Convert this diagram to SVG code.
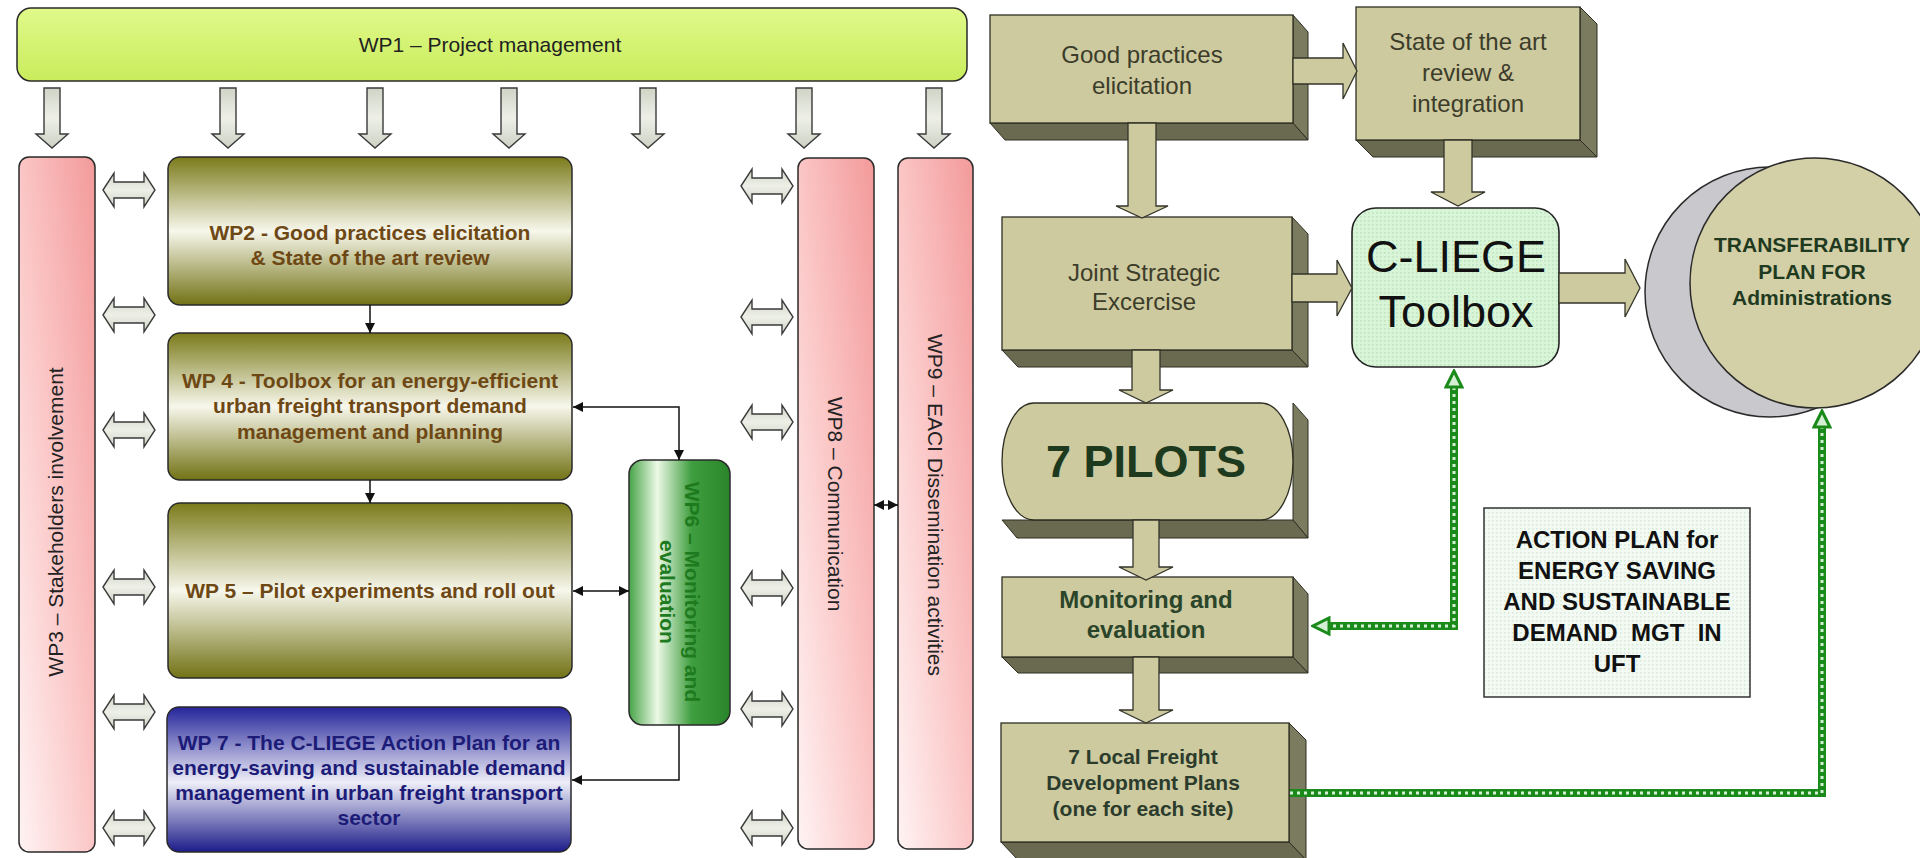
<svg xmlns="http://www.w3.org/2000/svg" width="1920" height="858" viewBox="0 0 1920 858">
<defs>
<linearGradient id="gWP1" x1="0" y1="0" x2="0" y2="1"><stop offset="0" stop-color="#e0f98a"/><stop offset="1" stop-color="#c9ec5c"/></linearGradient>
<linearGradient id="gOlive" x1="0" y1="0" x2="0" y2="1"><stop offset="0" stop-color="#7b7b1b"/><stop offset="0.5" stop-color="#f7f7ec"/><stop offset="1" stop-color="#727215"/></linearGradient>
<linearGradient id="gBlue" x1="0" y1="0" x2="0" y2="1"><stop offset="0" stop-color="#24249a"/><stop offset="0.52" stop-color="#eeeef8"/><stop offset="1" stop-color="#1c1c8a"/></linearGradient>
<linearGradient id="gGreen" x1="0" y1="0" x2="1" y2="0"><stop offset="0" stop-color="#47a347"/><stop offset="0.28" stop-color="#ecf9e6"/><stop offset="0.62" stop-color="#3f9e3f"/><stop offset="1" stop-color="#2a852a"/></linearGradient>
<linearGradient id="gPink" x1="0" y1="1" x2="1" y2="0"><stop offset="0" stop-color="#fff3f3"/><stop offset="0.5" stop-color="#fbc6c6"/><stop offset="1" stop-color="#f39a9a"/></linearGradient>
<linearGradient id="gArrow" x1="0" y1="0" x2="0" y2="1"><stop offset="0" stop-color="#cfd4c6"/><stop offset="0.5" stop-color="#eef0e8"/><stop offset="1" stop-color="#cdd2c4"/></linearGradient>
<pattern id="dots" width="4" height="4" patternUnits="userSpaceOnUse"><rect width="4" height="4" fill="#d8f5d8"/><rect width="1.6" height="1.6" fill="#bfe4bf"/></pattern>
<pattern id="dots2" width="4" height="4" patternUnits="userSpaceOnUse"><rect width="4" height="4" fill="#f3faf3"/><rect width="1.6" height="1.6" fill="#d9ead9"/></pattern>
<marker id="ah" viewBox="0 0 10 10" refX="10" refY="5" markerWidth="11" markerHeight="10" markerUnits="userSpaceOnUse" orient="auto-start-reverse"><path d="M0,0 L10,5 L0,10 z" fill="#111"/></marker>
<marker id="gh" viewBox="0 0 20 20" refX="19" refY="10" markerWidth="20" markerHeight="20" markerUnits="userSpaceOnUse" orient="auto-start-reverse"><path d="M2,2 L18,10 L2,18 Z" fill="#d4efd4" stroke="#1a8a1a" stroke-width="3"/></marker>
<path id="dbl" d="M -26 0 L -15 -17 L -15 -8 L 15 -8 L 15 -17 L 26 0 L 15 17 L 15 8 L -15 8 L -15 17 Z"/>
<path id="dn" d="M -8 0 L 8 0 L 8 46 L 16 46 L 0 60 L -16 46 L -8 46 Z"/>
</defs>
<style>
.hollow{fill:url(#gArrow);stroke:#3a3a3a;stroke-width:1.4}
.kh{fill:#cdca9f;stroke:#34342a;stroke-width:1.3}
.wp{stroke:#2a2a2a;stroke-width:1.5}
.front{fill:#cdca9f;stroke:#2e2e22;stroke-width:1.3}
.side{fill:#7b7b60;stroke:#2e2e22;stroke-width:1}
.bot{fill:#6a6a50;stroke:#2e2e22;stroke-width:1}
.t{font-family:"Liberation Sans",Arial,sans-serif;text-anchor:middle}
.b{font-weight:bold}
.brown{fill:#6e4814;font-size:21px}
.navy{fill:#1c1c78;font-size:21px}
.reg21{fill:#222;font-size:21px}
.olv{fill:#3c3c2a;font-size:24px}
.blk{stroke:#111;stroke-width:1.5;fill:none}
.gbase{stroke:#1a8a1a;stroke-width:8;fill:none}
.gdash{stroke:#d6f0d6;stroke-width:3;fill:none;stroke-dasharray:3 4}
.gm{stroke:none;fill:none}
</style>
<rect width="1920" height="858" fill="#ffffff"/>

<g id="wp1">
<rect class="wp" x="17" y="8" width="950" height="73" rx="14" fill="url(#gWP1)" stroke="#4a4a4a"/>
<text class="t reg21" x="490" y="52">WP1 – Project management</text>
</g>

<g id="wp3">
<rect class="wp" x="19" y="157" width="76" height="695" rx="10" fill="url(#gPink)"/>
<text class="t reg21" transform="translate(63,522) rotate(-90)">WP3 – Stakeholders involvement</text>
</g>

<g id="wp2">
<rect class="wp" x="168" y="157" width="404" height="148" rx="12" fill="url(#gOlive)"/>
<text class="t b brown" x="370" y="240">WP2 - Good practices elicitation</text>
<text class="t b brown" x="370" y="265">&amp; State of the art review</text>
</g>

<g id="wp4">
<rect class="wp" x="168" y="333" width="404" height="147" rx="12" fill="url(#gOlive)"/>
<text class="t b brown" x="370" y="388">WP 4 - Toolbox for an energy-efficient</text>
<text class="t b brown" x="370" y="413">urban freight transport demand</text>
<text class="t b brown" x="370" y="439">management and planning</text>
</g>

<g id="wp5">
<rect class="wp" x="168" y="503" width="404" height="175" rx="12" fill="url(#gOlive)"/>
<text class="t b brown" x="370" y="598">WP 5 – Pilot experiments and roll out</text>
</g>

<g id="wp7">
<rect class="wp" x="167" y="707" width="404" height="145" rx="12" fill="url(#gBlue)"/>
<text class="t b navy" x="369" y="750">WP 7 - The C-LIEGE Action Plan for an</text>
<text class="t b navy" x="369" y="775">energy-saving and sustainable demand</text>
<text class="t b navy" x="369" y="800">management in urban freight transport</text>
<text class="t b navy" x="369" y="825">sector</text>
</g>

<g id="wp6">
<rect class="wp" x="629" y="460" width="101" height="265" rx="14" fill="url(#gGreen)"/>
<text class="t b" fill="#1e7a1e" font-size="21" transform="translate(685,592) rotate(90)">WP6 – Monitoring and</text>
<text class="t b" fill="#1e7a1e" font-size="21" transform="translate(660,592) rotate(90)">evaluation</text>
</g>

<g id="wp8">
<rect class="wp" x="798" y="158" width="76" height="691" rx="10" fill="url(#gPink)"/>
<text class="t reg21" transform="translate(828,504) rotate(90)">WP8 – Communication</text>
</g>

<g id="wp9">
<rect class="wp" x="898" y="158" width="75" height="691" rx="10" fill="url(#gPink)"/>
<text class="t reg21" transform="translate(928,505) rotate(90)">WP9 – EACI Dissemination activities</text>
</g>

<g id="good-practices">
<polygon class="side" points="1293,15 1308,32 1308,140 1293,123"/>
<polygon class="bot" points="990,123 1293,123 1308,140 1005,140"/>
<rect class="front" x="990" y="15" width="303" height="108"/>
<text class="t olv" x="1142" y="63">Good practices</text>
<text class="t olv" x="1142" y="94">elicitation</text>
</g>

<g id="state-of-art">
<polygon class="side" points="1580,7 1597,24 1597,157 1580,140"/>
<polygon class="bot" points="1356,140 1580,140 1597,157 1373,157"/>
<rect class="front" x="1356" y="7" width="224" height="133"/>
<text class="t olv" x="1468" y="50">State of the art</text>
<text class="t olv" x="1468" y="81">review &amp;</text>
<text class="t olv" x="1468" y="112">integration</text>
</g>

<g id="joint-strategic">
<polygon class="side" points="1292,217 1308,234 1308,367 1292,350"/>
<polygon class="bot" points="1002,350 1292,350 1308,367 1018,367"/>
<rect class="front" x="1002" y="217" width="290" height="133"/>
<text class="t olv" x="1144" y="281">Joint Strategic</text>
<text class="t olv" x="1144" y="310">Excercise</text>
</g>

<g id="toolbox">
<rect x="1352" y="208" width="207" height="159" rx="24" fill="url(#dots)" stroke="#222" stroke-width="1.6"/>
<text class="t" x="1456" y="272" font-size="45" fill="#111">C-LIEGE</text>
<text class="t" x="1456" y="327" font-size="45" fill="#111">Toolbox</text>
</g>

<g id="transferability">
<ellipse cx="1770" cy="292" rx="125" ry="125" fill="#c9c9cd" stroke="#2a2a2a" stroke-width="1.5"/>
<ellipse cx="1815" cy="283" rx="125" ry="125" fill="#d3cfa6" stroke="#2a2a2a" stroke-width="1.5"/>
<text class="t b" x="1812" y="252" font-size="21" fill="#1f3a1f">TRANSFERABILITY</text>
<text class="t b" x="1812" y="279" font-size="21" fill="#1f3a1f">PLAN FOR</text>
<text class="t b" x="1812" y="305" font-size="21" fill="#1f3a1f">Administrations</text>
</g>

<g id="pilots">
<polygon class="side" points="1293,403 1308,420 1308,538 1293,520"/>
<polygon class="bot" points="1002,520 1293,520 1308,538 1017,538"/>
<path class="front" d="M1034 403 H1261 A32 58.5 0 0 1 1261 520 H1034 A32 58.5 0 0 1 1034 403 Z"/>
<text class="t b" x="1146" y="477" font-size="45" fill="#1e3a1e">7 PILOTS</text>
</g>

<g id="monitoring">
<polygon class="side" points="1293,577 1308,594 1308,673 1293,657"/>
<polygon class="bot" points="1002,657 1293,657 1308,673 1018,673"/>
<rect class="front" x="1002" y="577" width="291" height="80"/>
<text class="t b" x="1146" y="608" font-size="24" fill="#2a452a">Monitoring and</text>
<text class="t b" x="1146" y="638" font-size="24" fill="#2a452a">evaluation</text>
</g>

<g id="local-plans">
<polygon class="side" points="1289,723 1306,740 1306,860 1289,842"/>
<polygon class="bot" points="1001,842 1289,842 1306,860 1018,860"/>
<rect class="front" x="1001" y="723" width="288" height="119"/>
<text class="t b" x="1143" y="764" font-size="21" fill="#2c3c2c">7 Local Freight</text>
<text class="t b" x="1143" y="790" font-size="21" fill="#2c3c2c">Development Plans</text>
<text class="t b" x="1143" y="816" font-size="21" fill="#2c3c2c">(one for each site)</text>
</g>

<g id="action-plan">
<rect x="1484" y="508" width="266" height="189" fill="url(#dots2)" stroke="#333" stroke-width="1.5"/>
<text class="t b" x="1617" y="548" font-size="24" fill="#111">ACTION PLAN for</text>
<text class="t b" x="1617" y="579" font-size="24" fill="#111">ENERGY SAVING</text>
<text class="t b" x="1617" y="610" font-size="24" fill="#111">AND SUSTAINABLE</text>
<text class="t b" x="1617" y="641" font-size="24" fill="#111" xml:space="preserve">DEMAND  MGT  IN</text>
<text class="t b" x="1617" y="672" font-size="24" fill="#111">UFT</text>
</g>

<g id="connectors">
<use href="#dn" class="hollow" x="52" y="88"/>
<use href="#dn" class="hollow" x="228" y="88"/>
<use href="#dn" class="hollow" x="375" y="88"/>
<use href="#dn" class="hollow" x="509" y="88"/>
<use href="#dn" class="hollow" x="648" y="88"/>
<use href="#dn" class="hollow" x="804" y="88"/>
<use href="#dn" class="hollow" x="934" y="88"/>

<use href="#dbl" class="hollow" x="129" y="190"/>
<use href="#dbl" class="hollow" x="129" y="315"/>
<use href="#dbl" class="hollow" x="129" y="430"/>
<use href="#dbl" class="hollow" x="129" y="587"/>
<use href="#dbl" class="hollow" x="129" y="712"/>
<use href="#dbl" class="hollow" x="129" y="828"/>
<use href="#dbl" class="hollow" x="767" y="186"/>
<use href="#dbl" class="hollow" x="767" y="317"/>
<use href="#dbl" class="hollow" x="767" y="422"/>
<use href="#dbl" class="hollow" x="767" y="588"/>
<use href="#dbl" class="hollow" x="767" y="709"/>
<use href="#dbl" class="hollow" x="767" y="828"/>

<path class="blk" d="M370 305 V333" marker-end="url(#ah)"/>
<path class="blk" d="M370 480 V503" marker-end="url(#ah)"/>
<path class="blk" d="M573 407 H679 V460" marker-start="url(#ah)" marker-end="url(#ah)"/>
<path class="blk" d="M573 591 H629" marker-start="url(#ah)" marker-end="url(#ah)"/>
<path class="blk" d="M679 725 V780 H572" marker-end="url(#ah)"/>
<path class="blk" d="M874 505 H898" marker-start="url(#ah)" marker-end="url(#ah)"/>

<polygon class="kh" points="1293,58 1343,58 1343,43 1357,71 1343,99 1343,84 1293,84"/>
<polygon class="kh" points="1292,274 1337,274 1337,260 1352,288 1337,316 1337,302 1292,302"/>
<polygon class="kh" points="1559,273 1625,273 1625,259 1640,288 1625,317 1625,303 1559,303"/>
<polygon class="kh" points="1444,140 1444,192 1431,192 1458,206 1485,192 1472,192 1472,140"/>
<polygon class="kh" points="1128,123 1128,206 1116,206 1142,218 1168,206 1156,206 1156,123"/>
<polygon class="kh" points="1132,350 1132,390 1119,390 1146,403 1173,390 1160,390 1160,350"/>
<polygon class="kh" points="1133,520 1133,567 1119,567 1146,580 1173,567 1159,567 1159,520"/>
<polygon class="kh" points="1133,657 1133,710 1119,710 1146,723 1173,710 1159,710 1159,657"/>

<path class="gbase" d="M1326 626 H1454 V388"/>
<path class="gdash" d="M1326 626 H1454 V388"/>
<path class="gm" d="M1330 626 H1312" marker-end="url(#gh)"/>
<path class="gm" d="M1454 392 V370" marker-end="url(#gh)"/>
<path class="gbase" d="M1290 793 H1822 V428"/>
<path class="gdash" d="M1290 793 H1822 V428"/>
<path class="gm" d="M1822 432 V410" marker-end="url(#gh)"/>
</g>
</svg>
